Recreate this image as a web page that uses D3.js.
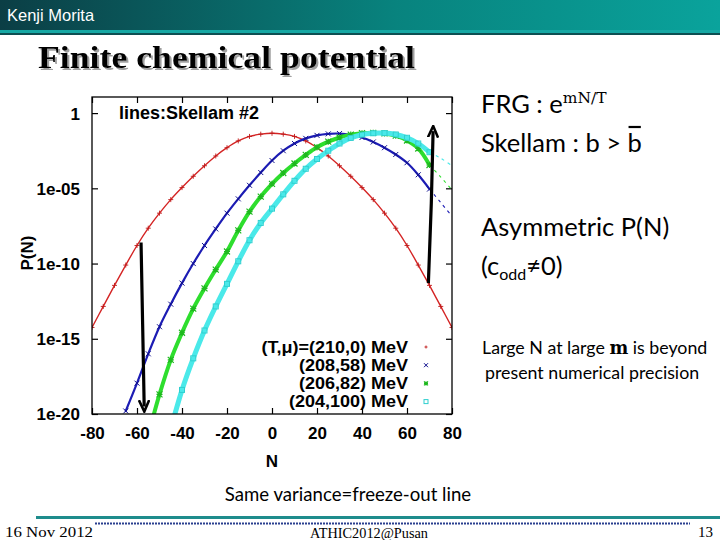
<!DOCTYPE html>
<html>
<head>
<meta charset="utf-8">
<script src="https://cdn.jsdelivr.net/npm/d3@7"></script>
<style>
  body { margin: 0; background: #fff; }
  svg { display: block; }
</style>
</head>
<body>
<svg width="720" height="540"></svg>
<script>
// ---- data (log10 P(N)) ----
var nRed   = [-80,-75,-70,-65,-60,-55,-50,-45,-40,-35,-30,-25,-20,-15,-10,-5,0,5,10,15,20,25,30,35,40,45,50,55,60,65,70,75,80];
var logRed = [-14.25,-12.85,-11.45,-10.1,-8.8,-7.65,-6.65,-5.75,-4.95,-4.2,-3.5,-2.85,-2.3,-1.85,-1.55,-1.4,-1.34,-1.4,-1.55,-1.85,-2.3,-2.85,-3.5,-4.2,-4.95,-5.75,-6.65,-7.65,-8.8,-10.1,-11.45,-12.85,-14.25];

var nBlue   = [-65,-60,-55,-50,-45,-40,-35,-30,-25,-20,-15,-10,-5,0,5,10,15,20,25,30,35,40,45,50,55,60,65,70];
var logBlue = [-19.8,-17.95,-16.0,-14.2,-12.7,-11.3,-10.0,-8.8,-7.7,-6.65,-5.7,-4.8,-3.95,-3.15,-2.5,-2.02,-1.68,-1.48,-1.38,-1.36,-1.44,-1.62,-1.92,-2.3,-2.75,-3.3,-4.1,-5.05];

var nGreen   = [-55,-50,-45,-40,-35,-30,-25,-20,-15,-10,-5,0,5,10,15,20,25,30,35,40,45,50,55,60,65,70];
var logGreen = [-21.4,-18.7,-16.4,-14.6,-13.0,-11.65,-10.4,-9.2,-7.8,-6.55,-5.55,-4.7,-3.98,-3.35,-2.78,-2.27,-1.9,-1.62,-1.43,-1.34,-1.31,-1.35,-1.5,-1.82,-2.35,-3.45];

var nCyan   = [-45,-40,-35,-30,-25,-20,-15,-10,-5,0,5,10,15,20,25,30,35,40,45,50,55,60,65,70];
var logCyan = [-21.0,-18.4,-16.3,-14.45,-12.85,-11.35,-9.85,-8.45,-7.3,-6.35,-5.4,-4.5,-3.7,-3.05,-2.5,-2.02,-1.65,-1.43,-1.34,-1.33,-1.42,-1.64,-2.02,-2.6];

// Skellam lines beyond the last FRG point
var nTail        = [70, 75, 80];
var logTailBlue  = [-5.05, -5.95, -6.85];
var logTailGreen = [-3.45, -4.25, -5.1];
var logTailCyan  = [-2.6, -3.0, -3.5];

// annotation arrows (N, log10 P)
var arrowLeftN    = [-58.2, -57.5, -56.8];
var arrowLeftLog  = [-8.6, -14, -19.5];
var arrowRightN   = [69.5, 70.8, 71.6];
var arrowRightLog = [-11.3, -6, -1.2];

var xTicks = [-80,-60,-40,-20,0,20,40,60,80];
var yTicks = [1, 1e-5, 1e-10, 1e-15, 1e-20];
var yTickLabels = ["1", "1e-05", "1e-10", "1e-15", "1e-20"];
var legendLabels = ["(T,\u03bc)=(210,0) MeV", "(208,58) MeV", "(206,82) MeV", "(204,100) MeV"];

var svg = d3.select("svg");

// ---- slide decoration ----
var defs = svg.append("defs");
var grad = defs.append("linearGradient").attr("id", "hdr").attr("x1", 0).attr("x2", 1);
grad.append("stop").attr("offset", "0%").attr("stop-color", "#0b3e45");
grad.append("stop").attr("offset", "55%").attr("stop-color", "#08837e");
grad.append("stop").attr("offset", "100%").attr("stop-color", "#0aa39c");
svg.append("rect").attr("x", 0).attr("y", 0).attr("width", 720).attr("height", 30).attr("fill", "url(#hdr)");
svg.append("rect").attr("x", 0).attr("y", 30).attr("width", 720).attr("height", 3).attr("fill", "#16a8a4");
svg.append("rect").attr("x", 0).attr("y", 33).attr("width", 720).attr("height", 2).attr("fill", "#0d4f52");
svg.append("text").attr("x", 7).attr("y", 21)
  .attr("font-family", "Liberation Sans, Arial, sans-serif").attr("font-size", 16.5)
  .attr("fill", "#fff").text("Kenji Morita");

var shadow = defs.append("filter").attr("id", "shadow").attr("x", "-5%").attr("y", "-20%").attr("width", "110%").attr("height", "140%");
shadow.append("feDropShadow").attr("dx", 2).attr("dy", 2).attr("stdDeviation", 0.6)
  .attr("flood-color", "#888").attr("flood-opacity", 0.8);

var titleFont = "Liberation Serif, Times New Roman, serif";
svg.append("text").attr("x", 38).attr("y", 68)
  .attr("font-family", titleFont).attr("font-weight", "bold").attr("font-size", 32)
  .attr("textLength", 377).attr("lengthAdjust", "spacingAndGlyphs")
  .attr("filter", "url(#shadow)")
  .attr("fill", "#000").text("Finite chemical potential");

// ---- chart ----
var x = d3.scaleLinear().domain([-80, 80]).range([92, 452]);
var y = d3.scaleLog().domain([1e-20, Math.pow(10, 1.07)]).range([414, 97]);

var plotFont = "Liberation Sans, Arial, sans-serif";

defs.append("clipPath").attr("id", "plotclip")
  .append("rect").attr("x", 92).attr("y", 97).attr("width", 360).attr("height", 317);

function toPoints(ns, logs) {
  return ns.map(function(n, i) { return {n: n, p: Math.pow(10, logs[i])}; });
}

var line = d3.line()
  .x(function(d) { return x(d.n); })
  .y(function(d) { return y(d.p); })
  .curve(d3.curveCatmullRom);

var series = [
  {name: "red",   color: "#d42424", width: 1.4, pts: toPoints(nRed, logRed),     marker: "plus"},
  {name: "blue",  color: "#1c1cb4", width: 2.2, pts: toPoints(nBlue, logBlue),   marker: "cross",  tail: toPoints(nTail, logTailBlue)},
  {name: "green", color: "#2ede2e", width: 4.0, pts: toPoints(nGreen, logGreen), marker: "star",   tail: toPoints(nTail, logTailGreen)},
  {name: "cyan",  color: "#4ae9e9", width: 5.0, pts: toPoints(nCyan, logCyan),   marker: "square", tail: toPoints(nTail, logTailCyan)}
];

var plot = svg.append("g").attr("clip-path", "url(#plotclip)");

function drawMarker(g, type, cx, cy, color, s) {
  if (type === "plus") {
    g.append("path").attr("d", "M" + (cx - s) + "," + cy + "h" + 2 * s + "M" + cx + "," + (cy - s) + "v" + 2 * s)
      .attr("stroke", color).attr("stroke-width", 0.9).attr("fill", "none");
  } else if (type === "cross") {
    g.append("path").attr("d", "M" + (cx - s) + "," + (cy - s) + "l" + 2 * s + "," + 2 * s + "M" + (cx - s) + "," + (cy + s) + "l" + 2 * s + "," + (-2 * s))
      .attr("stroke", color).attr("stroke-width", 1).attr("fill", "none");
  } else if (type === "star") {
    g.append("path").attr("d", "M" + (cx - s) + "," + (cy - s) + "l" + 2 * s + "," + 2 * s + "M" + (cx - s) + "," + (cy + s) + "l" + 2 * s + "," + (-2 * s) +
      "M" + (cx - s) + "," + cy + "h" + 2 * s + "M" + cx + "," + (cy - s) + "v" + 2 * s)
      .attr("stroke", color).attr("stroke-width", 1.2).attr("fill", "none");
  } else {
    g.append("rect").attr("x", cx - s).attr("y", cy - s).attr("width", 2 * s).attr("height", 2 * s)
      .attr("stroke", color).attr("stroke-width", 1).attr("fill", "none");
  }
}

var markerSize = {plus: 2.5, cross: 2.5, star: 3, square: 2.5};
var markerColor = {red: "#c01a1a", blue: "#10108e", green: "#1fb81f", cyan: "#2fcfcf"};

// Skellam tails (dashed lines)
series.forEach(function(s) {
  if (!s.tail) return;
  plot.append("path").datum(s.tail)
    .attr("d", line)
    .attr("fill", "none").attr("stroke", s.color).attr("stroke-width", 1.1)
    .attr("stroke-dasharray", "3,4");
});

// FRG points
series.forEach(function(s) {
  plot.append("path").datum(s.pts)
    .attr("d", line)
    .attr("fill", "none").attr("stroke", s.color).attr("stroke-width", s.width)
    .attr("stroke-linecap", "round");
  var g = plot.append("g");
  s.pts.forEach(function(d) {
    drawMarker(g, s.marker, x(d.n), y(d.p), markerColor[s.name], markerSize[s.marker]);
  });
});

// frame
svg.append("rect").attr("x", 92).attr("y", 97).attr("width", 360).attr("height", 317)
  .attr("fill", "none").attr("stroke", "#000").attr("stroke-width", 1.3);

// axes
var xAxis = svg.append("g").attr("transform", "translate(0,414)")
  .call(d3.axisBottom(x).tickValues(xTicks).tickSizeInner(-6).tickSizeOuter(0).tickPadding(13)
    .tickFormat(function(d) { return String(d); }));
var xTop = svg.append("g").attr("transform", "translate(0,97)")
  .call(d3.axisTop(x).tickValues(xTicks).tickSizeInner(-6).tickSizeOuter(0).tickFormat(""));
var yAxis = svg.append("g").attr("transform", "translate(92,0)")
  .call(d3.axisLeft(y).tickValues(yTicks).tickSizeInner(-6).tickSizeOuter(0).tickPadding(12)
    .tickFormat(function(d, i) { return yTickLabels[i]; }));
var yRight = svg.append("g").attr("transform", "translate(452,0)")
  .call(d3.axisRight(y).tickValues(yTicks).tickSizeInner(-6).tickSizeOuter(0).tickFormat(""));

[xAxis, xTop, yAxis, yRight].forEach(function(a) {
  a.select(".domain").remove();
  a.selectAll("line").attr("stroke", "#000").attr("stroke-width", 1.2);
  a.selectAll("text").attr("font-family", plotFont).attr("font-weight", "bold")
    .attr("font-size", 17).attr("fill", "#000");
});
yAxis.selectAll("text").attr("dy", "0.35em");

svg.append("text").attr("x", 272).attr("y", 467).attr("text-anchor", "middle")
  .attr("font-family", plotFont).attr("font-weight", "bold").attr("font-size", 17).text("N");
svg.append("text").attr("transform", "translate(33,253) rotate(-90)").attr("text-anchor", "middle")
  .attr("font-family", plotFont).attr("font-weight", "bold").attr("font-size", 17).text("P(N)");

svg.append("text").attr("x", 119).attr("y", 119)
  .attr("font-family", plotFont).attr("font-weight", "bold").attr("font-size", 18).text("lines:Skellam #2");

// legend: rows a bit condensed so they do not collide, stretched back to the reference width
var legendTop = 347, legendStep = 18.2, legendSize = 15.8;
var legend = svg.append("g");
legendLabels.forEach(function(lbl, i) {
  var ly = legendTop + i * legendStep;
  var probe = legend.append("text").attr("font-family", plotFont).attr("font-weight", "bold")
    .attr("font-size", 18).text(lbl);
  var wide = probe.node().getComputedTextLength();
  probe.remove();
  legend.append("text").attr("x", 408 - wide).attr("y", ly).attr("dy", "0.35em")
    .attr("font-family", plotFont).attr("font-weight", "bold").attr("font-size", legendSize)
    .attr("textLength", wide).attr("lengthAdjust", "spacingAndGlyphs").text(lbl);
  drawMarker(legend, series[i].marker, 426, ly, markerColor[series[i].name], i === 0 ? 1.5 : 2);
});

// annotation arrows
defs.append("marker").attr("id", "ah").attr("viewBox", "0 0 10 10").attr("refX", 5).attr("refY", 5)
  .attr("markerWidth", 4).attr("markerHeight", 4).attr("orient", "auto-start-reverse")
  .append("path").attr("d", "M0,1 L9,5 L0,9").attr("fill", "none").attr("stroke", "#000").attr("stroke-width", 2);
var arrowLine = d3.line().x(function(d) { return x(d.n); }).y(function(d) { return y(d.p); }).curve(d3.curveNatural);
[toPoints(arrowLeftN, arrowLeftLog), toPoints(arrowRightN, arrowRightLog)].forEach(function(a) {
  svg.append("path").datum(a).attr("d", arrowLine).attr("fill", "none")
    .attr("stroke", "#000").attr("stroke-width", 3.2).attr("marker-end", "url(#ah)");
});

// ---- right-hand text ----
var bodyFont = "Lato, Open Sans, sans-serif";
var t1 = svg.append("text").attr("x", 481).attr("y", 113).attr("font-family", bodyFont).attr("font-size", 25.5);
t1.append("tspan").text("FRG : e");
t1.append("tspan").attr("dy", -10).attr("font-size", 15.5).attr("font-family", "DejaVu Serif, serif").text("mN/T");

var t2 = svg.append("text").attr("x", 481).attr("y", 152).attr("font-family", bodyFont).attr("font-size", 25.5)
  .text("Skellam : b > b");
var lastB = t2.node().getExtentOfChar(t2.text().length - 1);
svg.append("line").attr("x1", lastB.x + 1).attr("x2", lastB.x + lastB.width - 1)
  .attr("y1", 127).attr("y2", 127).attr("stroke", "#000").attr("stroke-width", 2.2);

svg.append("text").attr("x", 481).attr("y", 236).attr("font-family", bodyFont).attr("font-size", 25.5).text("Asymmetric P(N)");
var t4 = svg.append("text").attr("x", 481).attr("y", 275).attr("font-family", bodyFont).attr("font-size", 25.5);
t4.append("tspan").text("(c");
t4.append("tspan").attr("dy", 5).attr("font-size", 16).text("odd");
t4.append("tspan").attr("dy", -5).text("\u22600)");

var t5 = svg.append("text").attr("x", 482).attr("y", 354).attr("font-family", bodyFont).attr("font-size", 17.8);
t5.append("tspan").text("Large N at large ");
t5.append("tspan").attr("font-family", "DejaVu Serif, serif").attr("font-weight", "bold").text("m");
t5.append("tspan").text(" is beyond");
svg.append("text").attr("x", 485).attr("y", 379).attr("font-family", bodyFont).attr("font-size", 17.8).text("present numerical precision");

svg.append("text").attr("x", 348).attr("y", 501).attr("text-anchor", "middle")
  .attr("font-family", bodyFont).attr("font-size", 18.6).text("Same variance=freeze-out line");

// ---- footer ----
svg.append("rect").attr("x", 36).attr("y", 516).attr("width", 684).attr("height", 3).attr("fill", "#1e8c8c");
svg.append("line").attr("x1", 95).attr("x2", 690).attr("y1", 523.5).attr("y2", 523.5)
  .attr("stroke", "#2a3f8f").attr("stroke-width", 2).attr("stroke-dasharray", "2,1");
var footFont = "Liberation Serif, Times New Roman, serif";
svg.append("text").attr("x", 5).attr("y", 537).attr("font-family", footFont).attr("font-size", 15)
  .attr("textLength", 88).attr("lengthAdjust", "spacingAndGlyphs").text("16 Nov 2012");
svg.append("text").attr("x", 310).attr("y", 538).attr("font-family", footFont).attr("font-size", 14.5)
  .attr("textLength", 118).attr("lengthAdjust", "spacingAndGlyphs").text("ATHIC2012@Pusan");
svg.append("text").attr("x", 713).attr("y", 537).attr("text-anchor", "end").attr("font-family", footFont).attr("font-size", 15).text("13");
</script>
</body>
</html>
